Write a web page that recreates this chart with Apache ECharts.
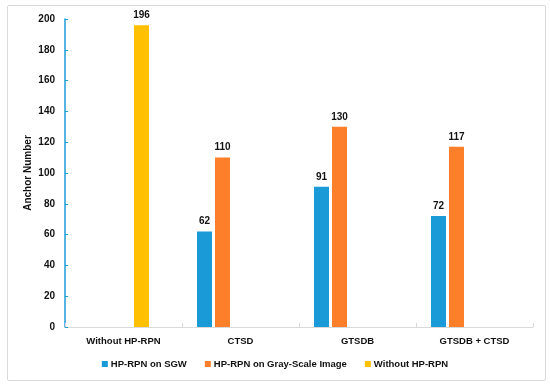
<!DOCTYPE html>
<html>
<head>
<meta charset="utf-8">
<script src="https://cdn.jsdelivr.net/npm/echarts@6/dist/echarts.min.js"></script>
<style>
html,body{margin:0;padding:0;background:#fff;}
#frame{position:absolute;left:7px;top:5px;width:539px;height:376px;border:1px solid #d9d9d9;border-radius:2px;box-sizing:border-box;}
#chart{position:absolute;left:0;top:0;width:550px;height:386px;}
</style>
</head>
<body>
<div id="frame"></div>
<div id="chart"></div>
<script>
const categories = ['Without HP-RPN', 'CTSD', 'GTSDB', 'GTSDB + CTSD'];
const sgw = [null, 62, 91, 72];
const gray = [null, 110, 130, 117];
const without = [196, null, null, null];
const seriesNames = ['HP-RPN on SGW', 'HP-RPN on Gray-Scale Image', 'Without HP-RPN'];
const yTicks = { min: 0, max: 200, interval: 20 };

const FONT = '"Liberation Sans", Arial, sans-serif';
const chart = echarts.init(document.getElementById('chart'), null, { renderer: 'canvas' });
const labelStyle = { show: true, position: 'top', distance: 5, fontFamily: FONT, fontWeight: 'bold', fontSize: 10, color: '#111' };
function bar(name, data, color) {
  return { name, type: 'bar', data, barWidth: 15, barGap: '20%', itemStyle: { color }, label: labelStyle };
}
chart.setOption({
  animation: false,
  textStyle: { fontFamily: FONT },
  grid: { left: 65, right: 17, top: 19, bottom: 59 },
  legend: {
    data: seriesNames,
    bottom: 12,
    left: 'center',
    itemWidth: 6, itemHeight: 6, itemGap: 18,
    icon: 'rect',
    textStyle: { fontFamily: FONT, fontWeight: 'bold', fontSize: 9.5, color: '#111', padding: [0, 0, 0, -2] }
  },
  xAxis: {
    type: 'category',
    data: categories,
    axisLine: { lineStyle: { color: '#d9d9d9' } },
    axisTick: { show: true, inside: true, length: 4, lineStyle: { color: '#d9d9d9' } },
    axisLabel: { fontFamily: FONT, fontWeight: 'bold', fontSize: 9.5, color: '#111', margin: 9 }
  },
  yAxis: {
    type: 'value',
    min: yTicks.min, max: yTicks.max, interval: yTicks.interval,
    name: 'Anchor Number',
    nameLocation: 'middle',
    nameGap: 32,
    nameMoveOverlap: false,
    nameTextStyle: { fontFamily: FONT, fontWeight: 'bold', fontSize: 10, color: '#111' },
    splitLine: { show: false },
    axisLine: { show: true, lineStyle: { color: '#1f9ad8', width: 1.5 } },
    axisTick: { show: true, inside: true, length: 3, lineStyle: { color: '#1f9ad8' } },
    axisLabel: { fontFamily: FONT, fontWeight: 'bold', fontSize: 10, color: '#111', margin: 10 }
  },
  series: [
    bar(seriesNames[0], sgw, '#1a9bd7'),
    bar(seriesNames[1], gray, '#fe7f2a'),
    { name: '_gap1', type: 'bar', data: [null, null, null, null], barWidth: 15, barGap: '20%' },
    bar(seriesNames[2], without, '#ffc000'),
    { name: '_gap2', type: 'bar', data: [null, null, null, null], barWidth: 15, barGap: '20%' }
  ]
});
</script>
</body>
</html>
